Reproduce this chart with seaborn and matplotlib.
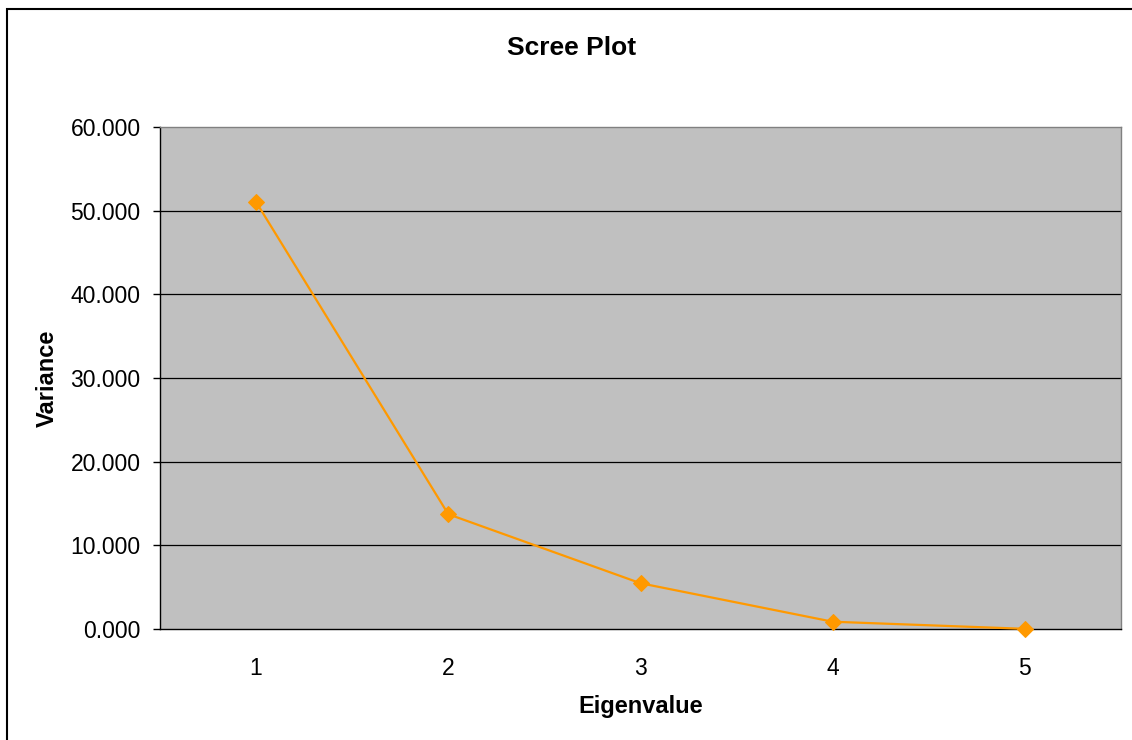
import matplotlib
matplotlib.use("Agg")
import matplotlib.pyplot as plt
import seaborn as sns
import pandas as pd
from matplotlib.patches import Rectangle
from matplotlib.ticker import FixedLocator, FuncFormatter

# Data
eigenvalues = [1, 2, 3, 4, 5]
variance = [51.03, 13.72, 5.47, 0.87, 0.02]
y_ticks = [0, 10, 20, 30, 40, 50, 60]

sns.set_style("white")
plt.rcParams['font.family'] = ['Liberation Sans', 'DejaVu Sans']
plt.rcParams['text.color'] = 'black'
plt.rcParams['xtick.color'] = 'black'
plt.rcParams['ytick.color'] = 'black'
plt.rcParams['axes.labelcolor'] = 'black'

fig = plt.figure(figsize=(11.32, 7.40), dpi=100)
ax = fig.add_axes([160/1132, 1 - 629/740, (1121 - 160)/1132, (629 - 127)/740])

df = pd.DataFrame({"Eigenvalue": eigenvalues, "Variance": variance})
ax.set_facecolor("#C0C0C0")
sns.lineplot(data=df, x="Eigenvalue", y="Variance", ax=ax, color="#FF9900",
             marker="D", markersize=8, markeredgecolor="#FF9900",
             linewidth=1.6, zorder=5, clip_on=False)

ax.set_xlim(0.5, 5.5)
ax.set_ylim(0, 60)

# y ticks and gridlines
ax.yaxis.set_major_locator(FixedLocator(y_ticks))
ax.yaxis.set_major_formatter(FuncFormatter(lambda v, p: f"{v:.3f}"))
for yv in y_ticks[1:-1]:
    ax.axhline(yv, color="black", linewidth=0.9, zorder=1)

# x: category labels at centres, tick marks at boundaries
ax.set_xticks(eigenvalues)
ax.set_xticklabels([str(e) for e in eigenvalues])
ax.set_xticks([0.5 + i for i in range(6)], minor=True)
ax.tick_params(axis='x', which='major', length=0, pad=20, labelsize=16.5)
ax.tick_params(axis='x', which='minor', length=5, width=1, color="black", direction="out")
ax.tick_params(axis='y', which='major', length=5, width=1, color="black",
               direction="out", pad=9, labelsize=16.5, left=True)

for side in ["left", "bottom"]:
    ax.spines[side].set_color("black")
    ax.spines[side].set_linewidth(1.0)
for side in ["top", "right"]:
    ax.spines[side].set_visible(True)
    ax.spines[side].set_color("#808080")
    ax.spines[side].set_linewidth(1.0)

ax.set_xlabel("Eigenvalue", fontsize=17, fontweight="bold", labelpad=11)
ax.set_ylabel("Variance", fontsize=17, fontweight="bold", labelpad=8)
fig.text(572/1132, 1 - 48/740, "Scree Plot", ha="center", va="center",
         fontsize=19, fontweight="bold")

# outer chart-area border (extends beyond image on right/bottom)
fig.patches.append(Rectangle((7/1132, -0.1), 1.2, (740 - 9)/740 + 0.1,
                             transform=fig.transFigure, fill=False,
                             edgecolor="black", linewidth=1.5))

fig.savefig("out.png", dpi=100, facecolor="white")
